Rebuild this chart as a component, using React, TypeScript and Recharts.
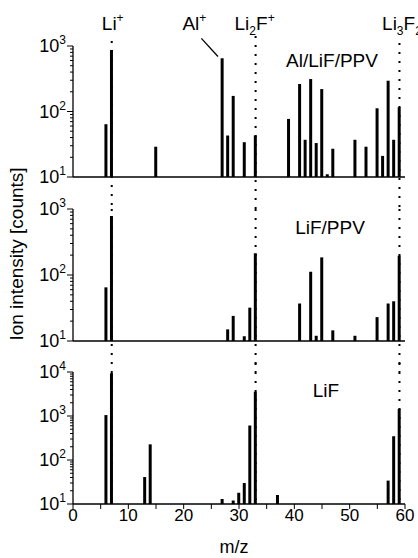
import { Bar, BarChart, ReferenceLine, XAxis, YAxis } from 'recharts';

// m/z tick positions (labels only at multiples of 10 on the bottom panel)
const xTicks = [0, 5, 10, 15, 20, 25, 30, 35, 40, 45, 50, 55, 60];

// Al/LiF/PPV spectrum
const alLifPpvMz = [6, 7, 15, 27, 28, 29, 31, 33, 39, 41, 42, 43, 44, 45, 46, 47, 51, 53, 55, 56, 57, 58, 59];
const alLifPpvCounts = [64, 870, 29, 650, 43, 173, 34, 43, 77, 263, 37, 313, 33, 220, 11, 27, 37, 29, 112, 21, 295, 37, 116];

// LiF/PPV spectrum
const lifPpvMz = [6, 7, 28, 29, 31, 32, 33, 41, 43, 44, 45, 47, 51, 55, 57, 58, 59];
const lifPpvCounts = [65, 783, 15, 24, 11.8, 32, 213, 37, 112, 12, 185, 14.5, 12, 23, 37, 40, 196];

// LiF spectrum
const lifMz = [6, 7, 13, 14, 27, 29, 30, 31, 32, 33, 37, 57, 58, 59];
const lifCounts = [1050, 9300, 41, 227, 13, 12, 18, 30, 608, 3550, 16, 34, 347, 1450];

// dotted marker lines for the lithium ions
const markerMz = [7, 33, 59];
const markerNames = ['Li+', 'Li2F+', 'Li3F2+'];
const markerTopCounts = [1190, 1420, 1110];

// Al+ pointer (data units)
const alPointerMz = [23.2, 26.2];
const alPointerCounts = [1310, 690];

const minorSteps = [1, 2, 3, 4, 5, 6, 7, 8, 9];
function logTicks(decades: number) {
  const out: number[] = [];
  for (let d = 1; d <= decades; d++) {
    minorSteps.forEach((s) => out.push(s * Math.pow(10, d)));
  }
  out.push(Math.pow(10, decades + 1));
  return out;
}

const FONT = '"Liberation Sans", Arial, Helvetica, sans-serif';

function Formula({ text, x, y, size = 19 }: { text: string; x: number; y: number; size?: number }) {
  const parts = text.match(/[A-Za-z]+|\d+|\+/g) || [];
  let shift = 0;
  return (
    <text x={x} y={y} textAnchor="middle" fontSize={size} fill="#000" fontFamily={FONT}>
      {parts.map((p, i) => {
        const target = /\d/.test(p) ? 5 : p === '+' ? -8 : 0;
        const dy = target - shift;
        shift = target;
        return (
          <tspan key={i} dy={dy} fontSize={target !== 0 ? 12 : size}>
            {p}
          </tspan>
        );
      })}
    </text>
  );
}

function LogTick(props: any) {
  const { x, y, payload } = props;
  const exp = Math.log10(payload.value);
  const major = Math.abs(exp - Math.round(exp)) < 1e-6;
  return (
    <g>
      <line x1={x - (major ? 6 : 3)} x2={x} y1={y} y2={y} stroke="#000" strokeWidth={1} />
      {major && (
        <text x={x - 7} y={y + 6} textAnchor="end" fontSize={18} fill="#000" fontFamily={FONT}>
          10
          <tspan dy={-8} fontSize={12}>
            {Math.round(exp)}
          </tspan>
        </text>
      )}
    </g>
  );
}

function Panel({
  top,
  height,
  marginTop,
  axisHeight,
  mz,
  counts,
  decades,
  lineFrom,
  lineTo,
  showXLabels,
  withLabels,
}: {
  top: number;
  height: number;
  marginTop: number;
  axisHeight: number;
  mz: number[];
  counts: number[];
  decades: number;
  lineFrom: number[];
  lineTo: number;
  showXLabels?: boolean;
  withLabels?: boolean;
}) {
  const rows = mz.map((m, i) => ({ mz: m, counts: counts[i] }));
  const yMax = Math.pow(10, decades + 1);
  // small horizontal nudges of the ion labels relative to their lines
  const labelDx = [1, -1, 6];
  return (
    <div style={{ position: 'absolute', left: 0, top }}>
      <BarChart width={418} height={height} data={rows} margin={{ top: marginTop, right: 13, bottom: 0, left: 0 }}>
        <XAxis
          dataKey="mz"
          type="number"
          domain={[0, 60]}
          ticks={xTicks}
          interval={0}
          allowDataOverflow
          height={axisHeight}
          tickSize={5}
          tickMargin={0}
          stroke="#000"
          axisLine={{ stroke: '#000', strokeWidth: 1.3 }}
          tickLine={{ stroke: '#000' }}
          tick={showXLabels ? { fill: '#000', fontSize: 17, fontFamily: FONT } : false}
          tickFormatter={(v: number) => (v % 10 === 0 ? String(v) : '')}
          label={
            showXLabels
              ? { value: 'm/z', position: 'insideBottom', offset: 5, dx: -5, fill: '#000', fontSize: 18, fontFamily: FONT }
              : undefined
          }
        />
        <YAxis
          type="number"
          scale="log"
          domain={[10, yMax]}
          allowDataOverflow
          ticks={logTicks(decades)}
          interval={0}
          width={73}
          tickSize={0}
          tickMargin={0}
          axisLine={{ stroke: '#000', strokeWidth: 1.3 }}
          tickLine={false}
          tick={<LogTick />}
        />
        <Bar dataKey="counts" fill="#000" barSize={3} isAnimationActive={false} />
        {markerMz.map((m, i) => (
          <ReferenceLine
            key={m}
            segment={[
              { x: m, y: lineFrom[i] },
              { x: m, y: lineTo },
            ]}
            stroke="#000"
            strokeWidth={2}
            strokeDasharray="2 7"
            ifOverflow="visible"
            label={
              withLabels ? (p: any) => <Formula text={markerNames[i]} x={p.viewBox.x + labelDx[i]} y={30} /> : undefined
            }
          />
        ))}
        {withLabels && (
          <ReferenceLine
            segment={[
              { x: alPointerMz[0], y: alPointerCounts[0] },
              { x: alPointerMz[1], y: alPointerCounts[1] },
            ]}
            stroke="#000"
            strokeWidth={1.3}
            ifOverflow="visible"
            label={(p: any) => <Formula text="Al+" x={p.viewBox.x - 7} y={30} />}
          />
        )}
      </BarChart>
    </div>
  );
}

export default function App() {
  return (
    <div
      style={{
        position: 'absolute',
        left: 0,
        top: 0,
        width: 418,
        height: 558,
        background: '#fff',
        fontFamily: FONT,
        overflow: 'hidden',
      }}
    >
      <Panel
        top={0}
        height={220}
        marginTop={46}
        axisHeight={43}
        mz={alLifPpvMz}
        counts={alLifPpvCounts}
        decades={2}
        lineFrom={markerTopCounts}
        lineTo={3.2}
        withLabels
      />
      <Panel
        top={190}
        height={190}
        marginTop={19}
        axisHeight={39}
        mz={lifPpvMz}
        counts={lifPpvCounts}
        decades={2}
        lineFrom={[1000, 1000, 1000]}
        lineTo={3.4}
      />
      <Panel
        top={355}
        height={203}
        marginTop={17}
        axisHeight={54}
        mz={lifMz}
        counts={lifCounts}
        decades={3}
        lineFrom={[10000, 16000, 16000]}
        lineTo={10}
        showXLabels
      />
      <svg width={418} height={558} style={{ position: 'absolute', left: 0, top: 0, pointerEvents: 'none' }}>
        <text x={332} y={67} textAnchor="middle" fontSize={19} fill="#000" fontFamily={FONT}>
          Al/LiF/PPV
        </text>
        <text x={330} y={234} textAnchor="middle" fontSize={19} fill="#000" fontFamily={FONT}>
          LiF/PPV
        </text>
        <text x={326} y={397} textAnchor="middle" fontSize={19} fill="#000" fontFamily={FONT}>
          LiF
        </text>
        <text transform="translate(23,254) rotate(-90)" textAnchor="middle" fontSize={19} fill="#000" fontFamily={FONT}>
          Ion intensity [counts]
        </text>
      </svg>
    </div>
  );
}
